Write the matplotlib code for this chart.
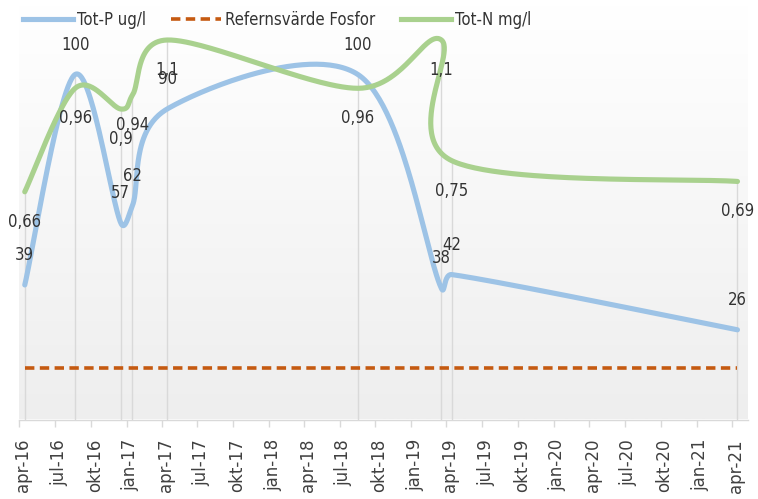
import numpy as np
import pandas as pd
import matplotlib
matplotlib.use('Agg')
import matplotlib.pyplot as plt
import matplotlib.dates as mdates
import matplotlib.transforms as mtransforms
from matplotlib import font_manager
from matplotlib.colors import LinearSegmentedColormap
from matplotlib.lines import Line2D

# Data
dates = pd.to_datetime(['2016-04-15', '2016-08-22', '2016-12-17', '2017-01-16', '2017-04-15',
                        '2018-08-17', '2019-03-19', '2019-04-15', '2021-04-16'])
tot_p = [39, 100, 57, 62, 90, 100, 38, 42, 26]
tot_n = [0.66, 0.96, 0.9, 0.94, 1.1, 0.96, 1.1, 0.75, 0.69]
ref_p = [15] * len(dates)

tick_dates = pd.date_range('2016-04-01', '2021-04-01', freq='3MS')
month_names = {1: 'jan', 4: 'apr', 7: 'jul', 10: 'okt'}
tick_labels = [f"{month_names[d.month]}-{d.strftime('%y')}" for d in tick_dates]

BLUE = '#9DC3E6'
GREEN = '#A9D18E'
ORANGE = '#C55A11'
GRID = '#D9D9D9'
TXT = '#333333'

# narrow font if one is around (the original uses Calibri)
fonts = font_manager.fontManager.ttflist
names = {f.name for f in fonts}
if 'Liberation Sans Narrow' in names:
    NARROW = dict(family='Liberation Sans Narrow')
elif any(f.name == 'DejaVu Sans' and 'condensed' in str(f.stretch) for f in fonts):
    NARROW = dict(family='DejaVu Sans', stretch='condensed')
else:
    NARROW = dict(family='Roboto')
plt.rcParams['font.family'] = [NARROW['family'], 'DejaVu Sans']
if 'stretch' in NARROW:
    plt.rcParams['font.stretch'] = NARROW['stretch']


def smooth(a, xs, ys, n=60):
    # Excel style smoothed line, worked out in pixel space:
    # bezier with catmull-rom control points, clamped to half the segment length
    pts = a.transData.transform(np.column_stack([xs, ys]).astype(float))
    out = []
    last = len(pts) - 1
    t = np.linspace(0, 1, n)[:, None]
    for i in range(last):
        p0 = pts[max(i - 1, 0)]
        p1 = pts[i]
        p2 = pts[i + 1]
        p3 = pts[min(i + 2, last)]
        half = np.hypot(*(p2 - p1)) / 2
        t1 = (p2 - p0) / 6
        t2 = (p3 - p1) / 6
        if np.hypot(*t1) > half:
            t1 = t1 * half / np.hypot(*t1)
        if np.hypot(*t2) > half:
            t2 = t2 * half / np.hypot(*t2)
        c1 = p1 + t1
        c2 = p2 - t2
        seg = (1 - t) ** 3 * p1 + 3 * (1 - t) ** 2 * t * c1 + 3 * (1 - t) * t ** 2 * c2 + t ** 3 * p2
        out.append(seg)
    out = a.transData.inverted().transform(np.vstack(out))
    return out[:, 0], out[:, 1]


W, H = 758, 499
fig = plt.figure(figsize=(W / 100, H / 100), dpi=100)
left_px, right_px, top_px, bot_px = 19.3, 748, 5.5, 419.5
ax = fig.add_axes([left_px / W, 1 - bot_px / H, (right_px - left_px) / W, (bot_px - top_px) / H])
ax2 = ax.twinx()

xnum = mdates.date2num(dates)
P_MAX, N_MAX = 120, 1.2

# background gradient
cmap = LinearSegmentedColormap.from_list('bg', ['#FFFFFF', '#EEEEEE'])
ax.imshow(np.linspace(1, 0, 256)[:, None], extent=(0, 1, 0, 1), transform=ax.transAxes,
          cmap=cmap, aspect='auto', origin='lower', zorder=0)

xmin = mdates.date2num(pd.Timestamp('2016-04-01'))
xmax = mdates.date2num(pd.Timestamp('2021-05-13'))
ax.set_xlim(xmin, xmax)
ax.set_ylim(0, P_MAX)
ax2.set_ylim(0, N_MAX)

# drop lines (both series, scaled onto the P axis)
drop_top = np.maximum(np.array(tot_p), np.array(tot_n) * P_MAX / N_MAX)
ax.vlines(xnum, 0, drop_top, color=GRID, lw=1, zorder=1)

ax.plot(xnum, ref_p, color=ORANGE, lw=2.6, dashes=(2.6, 1.5), zorder=2)
sx, sy = smooth(ax, xnum, tot_p)
ax.plot(sx, sy, color=BLUE, lw=3.7, solid_capstyle='round', zorder=3)
nx, ny = smooth(ax2, xnum, tot_n)
ax2.plot(nx, ny, color=GREEN, lw=3.7, solid_capstyle='round', zorder=3)

for x, v in zip(xnum, tot_p):
    ax.annotate(str(v), (x, v), xytext=(0, 30), textcoords='offset pixels',
                ha='center', va='center', fontsize=12, color=TXT, zorder=5)
for x, v in zip(xnum, tot_n):
    ax2.annotate(str(v).replace('.', ','), (x, v), xytext=(0, -30), textcoords='offset pixels',
                 ha='center', va='center', fontsize=12, color=TXT, zorder=5)

ax.set_xlim(xmin, xmax)
ax.set_ylim(0, P_MAX)

ax.set_xticks(mdates.date2num(tick_dates))
ax.set_xticklabels(tick_labels, rotation=90, fontsize=12, color='#404040',
                   family='DejaVu Sans', stretch='normal')
ax.tick_params(axis='x', length=5, width=1, color=GRID, pad=9)
shift = mtransforms.ScaledTranslation(4 / 100, 0, fig.dpi_scale_trans)
for lab in ax.get_xticklabels():
    lab.set_transform(lab.get_transform() + shift)

for a in (ax, ax2):
    a.set_yticks([])
    for s in ('top', 'left', 'right'):
        a.spines[s].set_visible(False)
ax2.spines['bottom'].set_visible(False)
ax.spines['bottom'].set_color(GRID)
ax.spines['bottom'].set_linewidth(1)

handles = [Line2D([], [], color=BLUE, lw=3.7),
           Line2D([], [], color=ORANGE, lw=2.6, dashes=(2.6, 1.5)),
           Line2D([], [], color=GREEN, lw=3.7)]
fig.legend(handles, ['Tot-P ug/l', 'Refernsvärde Fosfor', 'Tot-N mg/l'], ncol=3,
           loc='center left', bbox_to_anchor=(23 / W, 1 - 20 / H), frameon=False,
           fontsize=12, handlelength=3.0, handletextpad=0.25, columnspacing=1.5,
           borderpad=0, borderaxespad=0, labelcolor=TXT)

fig.savefig('out.png', dpi=100)
